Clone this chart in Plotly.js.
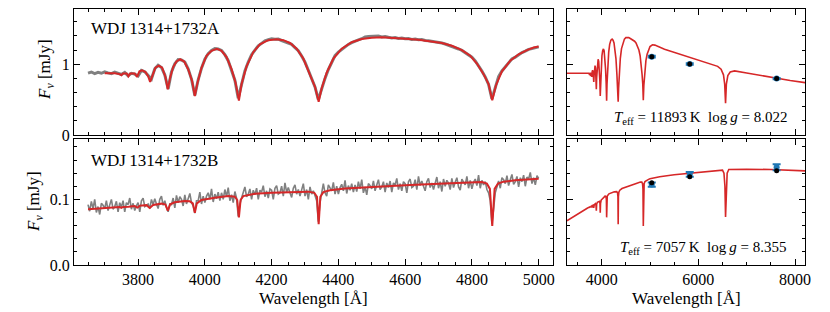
<!DOCTYPE html>
<html>
<head>
<meta charset="utf-8">
<script src="https://cdn.plot.ly/plotly-3.0.1.min.js"></script>
<style>html,body{margin:0;padding:0;background:#fff;}#chart{width:830px;height:312px;}</style>
</head>
<body>
<div id="chart"></div>
<script>
// ---------- Data ----------
const starA = "WDJ\u20091314+1732A";
const starB = "WDJ\u20091314+1732B";
const fitA = "<i>T</i><sub>eff</sub> = 11893\u2009K  log\u2009<i>g</i> = 8.022";
const fitB = "<i>T</i><sub>eff</sub> = 7057\u2009K  log\u2009<i>g</i> = 8.355";
const yTitle = "<i>F</i><sub><i>ν</i></sub> [mJy]";
const xTitle = "Wavelength [Å]";

// observed spectra (regular wavelength grid: start + step)
const obsA_start = 3650, obsA_step = 10;
const obsA_flux = [
 0.875,0.890,0.868,0.884,0.872,0.893,0.878,0.866,0.888,0.872,
 0.855,0.884,0.838,0.872,0.860,0.835,0.912,0.893,0.838,0.790,
 0.935,0.985,0.955,0.850,0.650,0.890,1.005,1.065,1.060,1.030,
 0.935,0.790,0.560,0.780,0.945,1.070,1.150,1.195,1.220,1.215,
 1.195,1.135,1.050,0.925,0.775,0.520,0.730,0.905,1.030,1.135,
 1.200,1.260,1.295,1.330,1.345,1.360,1.352,1.355,1.335,1.320,
 1.305,1.280,1.235,1.190,1.115,1.030,0.915,0.805,0.680,0.500,
 0.655,0.800,0.925,1.030,1.120,1.170,1.210,1.250,1.280,1.305,
 1.330,1.345,1.360,1.385,1.390,1.395,1.390,1.400,1.385,1.390,
 1.380,1.372,1.378,1.365,1.370,1.360,1.362,1.350,1.355,1.345,
 1.350,1.335,1.332,1.325,1.318,1.305,1.300,1.285,1.270,1.255,
 1.235,1.215,1.195,1.165,1.135,1.100,1.045,0.980,0.905,0.820,
 0.715,0.510,0.675,0.825,0.905,0.965,1.030,1.075,1.100,1.135,
 1.165,1.185,1.210,1.220,1.235,1.245
];
const obsB_start = 3650, obsB_step = 5;
const obsB_flux = [
 0.092,0.082,0.097,0.086,0.100,0.080,0.089,0.077,0.094,0.091,0.086,0.098,0.083,0.092,0.100,0.085,0.089,0.097,0.081,0.095,
 0.088,0.098,0.081,0.095,0.092,0.102,0.085,0.094,0.083,0.090,0.095,0.081,0.098,0.102,0.089,0.091,0.093,0.086,0.100,0.092,
 0.101,0.093,0.086,0.100,0.105,0.091,0.098,0.088,0.081,0.093,0.092,0.102,0.087,0.106,0.095,0.104,0.100,0.090,0.107,0.093,
 0.102,0.109,0.095,0.090,0.079,0.098,0.098,0.111,0.093,0.105,0.095,0.105,0.110,0.100,0.116,0.096,0.108,0.101,0.111,0.098,
 0.110,0.100,0.115,0.104,0.118,0.098,0.107,0.095,0.112,0.102,0.074,0.093,0.102,0.111,0.119,0.104,0.108,0.116,0.100,0.114,
 0.107,0.117,0.100,0.114,0.111,0.121,0.104,0.113,0.102,0.116,0.114,0.100,0.117,0.121,0.108,0.110,0.120,0.105,0.125,0.111,
 0.118,0.110,0.103,0.117,0.122,0.108,0.115,0.105,0.113,0.124,0.105,0.115,0.100,0.119,0.108,0.113,0.106,0.098,0.066,0.095,
 0.110,0.124,0.110,0.105,0.122,0.118,0.113,0.126,0.108,0.120,0.108,0.118,0.123,0.113,0.129,0.109,0.121,0.114,0.124,0.111,
 0.122,0.112,0.127,0.116,0.130,0.110,0.119,0.107,0.124,0.121,0.116,0.128,0.113,0.122,0.130,0.115,0.119,0.127,0.111,0.125,
 0.118,0.128,0.111,0.125,0.122,0.132,0.115,0.124,0.113,0.127,0.124,0.110,0.127,0.131,0.118,0.120,0.130,0.115,0.135,0.121,
 0.128,0.120,0.113,0.127,0.132,0.118,0.125,0.115,0.123,0.134,0.117,0.127,0.112,0.131,0.120,0.129,0.125,0.115,0.132,0.118,
 0.126,0.133,0.119,0.114,0.131,0.127,0.122,0.135,0.117,0.129,0.116,0.126,0.131,0.121,0.137,0.117,0.129,0.122,0.127,0.115,
 0.110,0.098,0.063,0.085,0.110,0.119,0.128,0.117,0.133,0.130,0.124,0.136,0.121,0.130,0.138,0.123,0.127,0.135,0.119,0.133,
 0.127,0.137,0.120,0.134,0.131,0.141,0.124,0.133,0.122,0.136,0.132
];

// model atmospheres
const modelA_wl = [3280,3500,3700,3730,3745,3750,3755,3766,3771,3776,3790,3797,3804,3812,3822,3830,3836,3843,3852,3862,
 3872,3882,3889,3896,3905,3915,3926,3938,3950,3962,3970,3978,3990,4005,4020,4036,4050,4065,4080,4092,
 4102,4110,4125,4145,4165,4190,4215,4235,4255,4275,4295,4315,4330,4341,4350,4365,4385,4410,4440,4470,
 4500,4530,4560,4600,4640,4680,4710,4740,4770,4795,4815,4835,4850,4861,4872,4890,4915,4940,4965,4985,
 5000,5050,5100,5300,5600,5900,6100,6300,6400,6470,6520,6545,6563,6580,6610,6660,6750,7000,7300,7600,
 7900,8210];
const modelA_flux = [0.873,0.873,0.873,0.872,0.860,0.845,0.870,0.868,0.830,0.870,0.870,0.820,0.900,0.915,0.890,0.830,0.750,0.840,0.950,0.980,
 0.950,0.820,0.645,0.810,0.960,1.040,1.070,1.040,0.930,0.760,0.550,0.740,0.950,1.120,1.190,1.216,1.190,1.100,0.930,0.740,
 0.485,0.720,0.970,1.170,1.280,1.340,1.354,1.340,1.300,1.220,1.080,0.850,0.680,0.470,0.660,0.880,1.080,1.220,1.310,1.355,
 1.375,1.380,1.375,1.360,1.345,1.325,1.300,1.260,1.200,1.120,1.010,0.860,0.720,0.490,0.700,0.900,1.050,1.140,1.200,1.235,
 1.250,1.275,1.270,1.213,1.148,1.083,1.040,0.995,0.970,0.930,0.850,0.720,0.450,0.720,0.840,0.890,0.905,0.875,0.840,0.800,
 0.770,0.740];
const modelB_wl = [3280,3400,3500,3600,3650,3700,3745,3750,3755,3771,3776,3790,3798,3806,3825,3835,3845,3870,3882,3889,
 3896,3910,3940,3955,3964,3970,3976,3990,4030,4070,4090,4097,4102,4107,4115,4150,4200,4260,4310,4328,
 4336,4341,4346,4355,4375,4420,4500,4600,4700,4800,4830,4845,4854,4861,4868,4878,4895,4930,4970,5000,
 5200,5500,5800,6100,6400,6500,6530,6550,6563,6576,6596,6630,6800,7000,7500,8000,8210];
const modelB_flux = [0.0675,0.0733,0.0779,0.0825,0.0848,0.0865,0.0882,0.0870,0.0884,0.0888,0.0890,0.0898,0.0875,0.0905,0.0912,0.0870,0.0915,0.0935,0.0920,0.0827,
 0.0925,0.0955,0.0975,0.0970,0.0940,0.0796,0.0940,0.0990,0.1025,0.1050,0.1040,0.0990,0.0726,0.0990,0.1050,0.1085,0.1100,0.1115,0.1118,0.1100,
 0.1040,0.0620,0.1040,0.1110,0.1140,0.1165,0.1190,0.1215,0.1240,0.1265,0.1263,0.1240,0.1160,0.0594,0.1160,0.1240,0.1270,0.1290,0.1305,0.1315,
 0.1345,0.1375,0.1398,0.1425,0.1448,0.1445,0.1400,0.1200,0.0730,0.1200,0.1400,0.1455,0.1462,0.1460,0.1455,0.1442,0.1435];

// Gaia photometry (BP, G, RP)
const photWl = [5036, 5822, 7620];
const photA_obs = [1.107, 1.004, 0.797];
const photA_err = [0.012, 0.010, 0.010];
const photA_syn = [1.107, 1.003, 0.798];
const photB_obs = [0.1225, 0.1380, 0.1490];
const photB_err = [0.0033, 0.0036, 0.0045];
const photB_syn = [0.1253, 0.1344, 0.1436];

// ---------- Helpers ----------
function clip(wl, fl, lo, hi) {
  const x = [], y = [];
  for (let i = 0; i < wl.length; i++) if (wl[i] >= lo && wl[i] <= hi) { x.push(wl[i]); y.push(fl[i]); }
  return {x, y};
}
const specA = clip(modelA_wl, modelA_flux, 3650, 5000);
const specB = clip(modelB_wl, modelB_flux, 3650, 5000);

const RED = '#d62728', GREY = '#808080', BLUE = '#1f77b4';
const FONT = 'Liberation Serif, Times New Roman, serif';

const traces = [
  {x0: obsA_start, dx: obsA_step, y: obsA_flux, type: 'scatter', mode: 'lines', line: {color: GREY, width: 3}, xaxis: 'x', yaxis: 'y'},
  {x: specA.x, y: specA.y, type: 'scatter', mode: 'lines', line: {color: RED, width: 2}, xaxis: 'x', yaxis: 'y'},
  {x: modelA_wl, y: modelA_flux, type: 'scatter', mode: 'lines', line: {color: RED, width: 1.6}, xaxis: 'x2', yaxis: 'y2'},
  {x: photWl, y: photA_obs, type: 'scatter', mode: 'markers', marker: {color: BLUE, size: 6},
   error_y: {type: 'data', array: photA_err, color: BLUE, thickness: 2, width: 4}, xaxis: 'x2', yaxis: 'y2'},
  {x: photWl, y: photA_syn, type: 'scatter', mode: 'markers', marker: {color: 'black', size: 5}, xaxis: 'x2', yaxis: 'y2'},

  {x0: obsB_start, dx: obsB_step, y: obsB_flux, type: 'scatter', mode: 'lines', line: {color: GREY, width: 1.6}, xaxis: 'x3', yaxis: 'y3'},
  {x: specB.x, y: specB.y, type: 'scatter', mode: 'lines', line: {color: RED, width: 2}, xaxis: 'x3', yaxis: 'y3'},
  {x: modelB_wl, y: modelB_flux, type: 'scatter', mode: 'lines', line: {color: RED, width: 1.6}, xaxis: 'x4', yaxis: 'y4'},
  {x: photWl, y: photB_obs, type: 'scatter', mode: 'markers', marker: {color: BLUE, size: 6},
   error_y: {type: 'data', array: photB_err, color: BLUE, thickness: 2, width: 4}, xaxis: 'x4', yaxis: 'y4'},
  {x: photWl, y: photB_syn, type: 'scatter', mode: 'markers', marker: {color: 'black', size: 5}, xaxis: 'x4', yaxis: 'y4'}
];

const W = 830, H = 312;
const dxL = [74 / W, 553 / W], dxR = [567 / W, 805 / W];
const dyT = [1 - 135 / H, 1 - 9 / H], dyB = [1 - 265 / H, 1 - 139 / H];

function ax(extra) {
  return Object.assign({
    showline: true, linecolor: 'black', linewidth: 1.3, mirror: 'allticks',
    ticks: 'inside', ticklen: 6, tickwidth: 1, tickcolor: 'black',
    showgrid: false, zeroline: false, fixedrange: true,
    tickfont: {family: FONT, size: 16, color: 'black'}
  }, extra);
}
const minorSpec = d => ({ticks: 'inside', ticklen: 3, tickwidth: 1, tickcolor: 'black', dtick: d, showgrid: false});
const F17 = {family: FONT, size: 17, color: 'black'};
const F15 = {family: FONT, size: 15, color: 'black'};

function note(text, xpx, ypx, xanchor, font, angle) {
  return {xref: 'paper', yref: 'paper', x: xpx / W, y: 1 - ypx / H, xanchor: xanchor, yanchor: 'middle',
          showarrow: false, text: text, font: font, textangle: angle || 0};
}

const layout = {
  width: W, height: H, margin: {l: 0, r: 0, t: 0, b: 0},
  paper_bgcolor: 'white', plot_bgcolor: 'white', showlegend: false,
  font: {family: FONT, size: 16, color: 'black'},
  xaxis:  ax({domain: dxL, anchor: 'y',  range: [3608, 5043], tick0: 3800, dtick: 200, minor: minorSpec(50), showticklabels: false}),
  xaxis3: ax({domain: dxL, anchor: 'y3', range: [3608, 5043], tick0: 3800, dtick: 200, minor: minorSpec(50)}),
  xaxis2: ax({domain: dxR, anchor: 'y2', range: [3282, 8207], tick0: 4000, dtick: 2000, minor: minorSpec(500), showticklabels: false}),
  xaxis4: ax({domain: dxR, anchor: 'y4', range: [3282, 8207], tick0: 4000, dtick: 2000, minor: minorSpec(500)}),
  yaxis:  ax({domain: dyT, anchor: 'x',  range: [0, 1.78], tick0: 0, dtick: 1, minor: minorSpec(0.2)}),
  yaxis2: ax({domain: dyT, anchor: 'x2', range: [0, 1.78], tick0: 0, dtick: 1, minor: minorSpec(0.2), showticklabels: false}),
  yaxis3: ax({domain: dyB, anchor: 'x3', range: [0, 0.192], tick0: 0, dtick: 0.1, tickformat: '.1f', minor: minorSpec(0.02)}),
  yaxis4: ax({domain: dyB, anchor: 'x4', range: [0, 0.192], tick0: 0, dtick: 0.1, minor: minorSpec(0.02), showticklabels: false}),
  annotations: [
    note(starA, 89, 28, 'left', F17),
    note(starB, 89, 160, 'left', F17),
    note(fitA, 789, 118, 'right', F15),
    note(fitB, 789, 248, 'right', F15),
    note(yTitle, 46, 70, 'center', F17, -90),
    note(yTitle, 35, 202, 'center', F17, -90),
    note(xTitle, 313, 298, 'center', F17),
    note(xTitle, 686, 298, 'center', F17)
  ]
};

Plotly.newPlot('chart', traces, layout, {displayModeBar: false});
</script>
</body>
</html>
